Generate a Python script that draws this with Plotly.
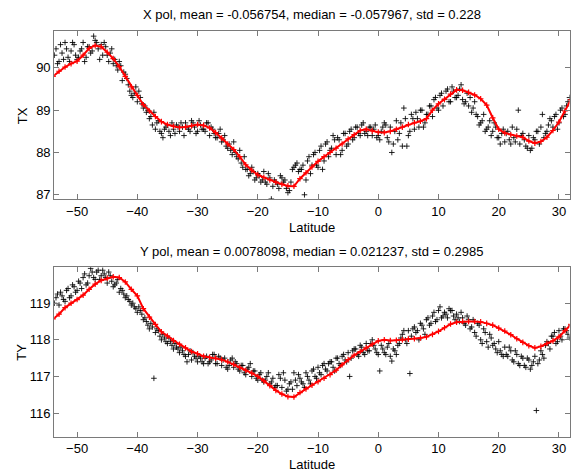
import plotly.graph_objects as go

# ---------------- data ----------------
lat_model = list(range(-54, 33))                      # model curve latitudes (1 deg)
lat_obs = [-53.75 + 0.5 * i for i in range(172)]      # observation latitudes, pass A
lat_obs2 = [-53.5 + 0.5 * i for i in range(172)]      # observation latitudes, pass B

tx_model = [89.80, 89.92, 90.02, 90.10, 90.16, 90.30, 90.46, 90.53, 90.50, 90.37,
            90.22, 90.03, 89.80, 89.55, 89.35, 89.13, 88.98, 88.85, 88.73, 88.66,
            88.62, 88.59, 88.60, 88.63, 88.66, 88.64, 88.58, 88.47, 88.34, 88.20,
            88.07, 87.90, 87.71, 87.58, 87.47, 87.41, 87.35, 87.30, 87.25, 87.21,
            87.20, 87.38, 87.52, 87.66, 87.79, 87.90, 88.00, 88.10, 88.20, 88.32,
            88.42, 88.52, 88.55, 88.51, 88.48, 88.47, 88.50, 88.55, 88.60, 88.66,
            88.70, 88.74, 88.80, 89.00, 89.15, 89.26, 89.38, 89.48, 89.47, 89.42,
            89.36, 89.27, 89.12, 88.82, 88.55, 88.46, 88.42, 88.39, 88.36, 88.27,
            88.22, 88.26, 88.36, 88.52, 88.72, 88.98, 89.25]

tx_obs = [90.30, 90.10, 90.55, 90.20, 90.45, 90.15, 90.60, 90.30, 90.25, 90.45,
          90.15, 90.50, 90.35, 90.75, 90.60, 90.20, 90.30, 90.50, 90.15, 90.45,
          90.20, 89.95, 90.05, 89.90, 89.75, 89.45, 89.30, 89.55, 89.45, 89.15,
          89.10, 89.00, 88.85, 88.95, 88.70, 88.50, 88.35, 88.60, 88.50, 88.70,
          88.45, 88.60, 88.70, 88.40, 88.60, 88.50, 88.70, 88.45, 88.75, 88.55,
          88.50, 88.70, 88.60, 88.45, 88.35, 88.55, 88.30, 88.15, 88.20, 87.95,
          88.00, 87.85, 87.75, 87.90, 87.60, 87.50, 87.55, 87.40, 87.45, 87.35,
          87.30, 87.50, 86.90, 87.35, 87.25, 87.45, 87.30, 87.15, 87.10, 87.60,
          87.70, 87.55, 87.60, 87.00, 87.80, 87.50, 87.95, 87.70, 88.05, 87.60,
          88.20, 87.90, 88.10, 88.30, 88.35, 87.95, 88.45, 88.15, 88.50, 88.30,
          88.60, 88.45, 88.65, 88.45, 88.40, 88.60, 88.55, 88.35, 88.30, 88.60,
          88.65, 88.25, 88.00, 88.50, 88.30, 88.70, 89.05, 88.15, 88.50, 88.80,
          88.95, 88.60, 89.00, 88.70, 88.90, 89.10, 89.25, 89.05, 89.35, 89.10,
          89.45, 89.20, 89.55, 89.30, 89.35, 89.60, 89.15, 89.40, 89.30, 89.05,
          88.90, 88.65, 88.75, 88.50, 88.60, 88.40, 88.70, 88.35, 88.20, 88.55,
          88.45, 88.30, 88.60, 88.25, 89.00, 88.40, 88.30, 88.10, 88.05, 88.35,
          88.50, 88.20, 88.90, 88.45, 88.65, 88.75, 88.85, 88.55, 89.00, 88.85,
          89.10, 89.30]

tx_obs2 = [90.45, 90.15, 90.35, 90.60, 90.25, 90.40, 90.55, 90.20, 90.40, 90.60,
           90.25, 90.50, 90.40, 90.65, 90.45, 90.55, 90.60, 90.30, 90.35, 90.10,
           90.05, 90.15, 89.70, 89.85, 89.60, 89.35, 89.40, 89.20, 89.30, 89.05,
           88.95, 88.80, 88.65, 88.55, 88.75, 88.45, 88.55, 88.65, 88.40, 88.55,
           88.65, 88.50, 88.60, 88.70, 88.55, 88.75, 88.60, 88.50, 88.65, 88.55,
           88.70, 88.40, 88.55, 88.35, 88.45, 88.25, 88.40, 88.10, 88.05, 88.25,
           87.90, 88.05, 87.65, 87.60, 87.45, 87.65, 87.35, 87.50, 87.30, 87.55,
           87.25, 87.40, 87.20, 87.30, 87.15, 87.40, 87.35, 87.05, 87.30, 87.65,
           87.75, 87.60, 87.70, 87.35, 87.90, 87.70, 88.00, 87.65, 88.15, 87.80,
           88.25, 88.05, 88.40, 87.95, 88.30, 88.05, 88.45, 88.20, 88.55, 88.35,
           88.60, 88.40, 88.70, 88.50, 88.60, 88.40, 88.65, 88.40, 88.50, 88.70,
           88.35, 88.60, 88.20, 88.75, 88.45, 88.15, 88.80, 88.40, 88.90, 88.55,
           88.80, 89.00, 88.60, 88.90, 89.10, 88.85, 89.30, 89.00, 89.40, 89.25,
           89.50, 89.20, 89.45, 89.30, 89.50, 89.25, 89.20, 89.10, 88.95, 89.20,
           88.85, 88.70, 88.90, 88.55, 88.75, 88.50, 88.60, 88.35, 88.45, 88.25,
           88.50, 88.20, 88.35, 88.55, 88.20, 88.45, 88.15, 88.40, 88.10, 88.30,
           88.50, 88.60, 88.35, 88.50, 88.80, 88.60, 88.90, 88.70, 89.05, 88.90,
           89.20, 89.25]

ty_model = [118.57, 118.70, 118.88, 119.00, 119.10, 119.22, 119.38, 119.52, 119.62, 119.68,
            119.72, 119.70, 119.58, 119.38, 119.20, 118.85, 118.62, 118.42, 118.22, 118.10,
            117.98, 117.88, 117.78, 117.68, 117.62, 117.55, 117.52, 117.50, 117.46, 117.40,
            117.33, 117.25, 117.17, 117.09, 117.00, 116.88, 116.75, 116.62, 116.52, 116.45,
            116.44, 116.56, 116.66, 116.76, 116.86, 116.95, 117.05, 117.17, 117.32, 117.46,
            117.58, 117.68, 117.78, 117.88, 117.97, 118.00, 117.98, 117.99, 118.00, 118.02,
            118.03, 118.05, 118.08, 118.15, 118.23, 118.33, 118.43, 118.48, 118.50, 118.50,
            118.50, 118.49, 118.45, 118.40, 118.32, 118.24, 118.14, 118.03, 117.93, 117.84,
            117.78, 117.82, 117.90, 117.97, 118.08, 118.25, 118.42]

ty_obs = [119.00, 119.25, 119.30, 119.10, 119.35, 119.15, 119.50, 119.30, 119.60, 119.40,
          119.80, 119.55, 119.95, 119.70, 119.85, 119.65, 119.90, 119.70, 119.85, 119.60,
          119.50, 119.65, 119.40, 119.25, 119.20, 119.05, 119.00, 118.85, 118.90, 118.70,
          118.60, 118.40, 118.45, 116.95, 118.30, 118.10, 118.15, 117.95, 118.05, 117.85,
          117.90, 117.75, 117.80, 117.60, 117.40, 117.70, 117.65, 117.50, 117.55, 117.40,
          117.50, 117.35, 117.45, 117.60, 117.35, 117.50, 117.45, 117.25, 117.30, 117.50,
          117.40, 117.20, 117.30, 117.10, 117.20, 117.35, 117.15, 116.95, 117.05, 116.90,
          116.90, 117.10, 116.85, 116.70, 116.75, 116.95, 117.10, 116.60, 116.80, 116.65,
          116.90, 117.05, 116.85, 116.70, 117.00, 116.80, 117.20, 116.95, 117.10, 117.30,
          117.20, 117.35, 117.40, 117.15, 117.50, 117.30, 117.60, 117.40, 117.00, 117.70,
          117.75, 117.55, 117.80, 117.60, 117.70, 117.90, 117.85, 117.65, 117.15, 117.75,
          117.60, 117.90, 117.42, 117.70, 117.85, 118.05, 118.25, 117.90, 117.08, 118.30,
          118.20, 118.00, 118.40, 118.15, 118.60, 118.45, 118.75, 118.55, 118.90, 118.65,
          118.70, 118.85, 118.80, 118.55, 118.60, 118.75, 118.45, 118.65, 118.30, 118.55,
          118.10, 118.40, 117.90, 118.20, 117.80, 118.05, 117.90, 117.65, 117.70, 117.55,
          117.60, 117.80, 117.45, 117.70, 117.35, 117.55, 117.30, 117.50, 117.20, 117.40,
          116.07, 117.45, 117.60, 117.85, 117.90, 118.10, 118.20, 117.95, 118.10, 118.30,
          118.25, 118.05]

ty_obs2 = [119.15, 118.95, 119.20, 119.05, 119.40, 119.20, 119.45, 119.35, 119.55, 119.70,
           119.50, 119.75, 119.85, 119.65, 119.90, 119.75, 119.80, 119.55, 119.75, 119.45,
           119.55, 119.30, 119.35, 119.15, 119.10, 118.95, 118.90, 118.75, 118.80, 118.55,
           118.50, 118.30, 118.35, 118.20, 118.25, 118.00, 118.05, 117.90, 117.95, 117.75,
           117.80, 117.65, 117.70, 117.55, 117.60, 117.45, 117.55, 117.40, 117.50, 117.35,
           117.55, 117.40, 117.60, 117.35, 117.55, 117.30, 117.50, 117.20, 117.45, 117.25,
           117.35, 117.15, 117.30, 117.05, 117.25, 117.00, 117.15, 116.90, 117.10, 116.85,
           117.00, 116.80, 116.95, 116.75, 117.05, 116.70, 116.90, 116.65, 116.85, 117.10,
           116.75, 116.95, 116.80, 117.10, 116.90, 117.15, 117.00, 117.25, 117.05, 117.35,
           117.15, 117.40, 117.25, 117.50, 117.35, 117.55, 117.45, 117.65, 117.50, 117.75,
           117.60, 117.85, 117.65, 117.90, 117.70, 118.00, 117.75, 117.60, 117.85, 117.65,
           117.80, 117.55, 117.75, 117.60, 117.90, 118.15, 118.00, 118.25, 118.10, 118.35,
           118.25, 118.45, 118.30, 118.55, 118.40, 118.65, 118.50, 118.80, 118.60, 118.75,
           118.60, 118.80, 118.65, 118.70, 118.50, 118.60, 118.40, 118.55, 118.35, 118.20,
           118.45, 118.00, 118.30, 117.95, 118.15, 117.85, 117.75, 117.95, 117.60, 117.80,
           117.55, 117.70, 117.40, 117.60, 117.30, 117.50, 117.25, 117.45, 117.30, 117.55,
           117.35, 117.70, 117.50, 117.95, 117.75, 118.10, 117.90, 118.25, 118.00, 118.30,
           118.15, 118.40]

title_top = "X pol, mean = -0.056754, median = -0.057967, std = 0.228"
title_bot = "Y pol, mean = 0.0078098, median = 0.021237, std = 0.2985"
x_ticks = [-50, -40, -30, -20, -10, 0, 10, 20, 30]
tx_ticks = [87, 88, 89, 90]
ty_ticks = [116, 117, 118, 119]

# ---------------- figure ----------------
W, H = 571, 475
FONT = "Liberation Sans, Arial, Helvetica, sans-serif"
AXC = "#7a7a7a"

fig = go.Figure()

def add_obs(xa, ya, xs, ys):
    fig.add_trace(go.Scatter(
        x=xs, y=ys, mode="markers", xaxis=xa, yaxis=ya,
        marker=dict(symbol="cross-thin", size=4, color="black",
                    line=dict(color="rgba(0,0,0,0.85)", width=1)),
        showlegend=False, hoverinfo="skip"))

def add_model(xa, ya, ys):
    fig.add_trace(go.Scatter(
        x=lat_model, y=ys, mode="lines+markers", xaxis=xa, yaxis=ya,
        line=dict(color="#ff0000", width=2),
        marker=dict(symbol="cross-thin", size=4, color="#ff0000",
                    line=dict(color="#ff0000", width=1.2)),
        showlegend=False, hoverinfo="skip"))

add_obs("x", "y", lat_obs, tx_obs)
add_obs("x", "y", lat_obs2, tx_obs2)
add_model("x", "y", tx_model)
add_obs("x2", "y2", lat_obs, ty_obs)
add_obs("x2", "y2", lat_obs2, ty_obs2)
add_model("x2", "y2", ty_model)

def px_x(p):
    return p / W

def px_y(p):
    return 1 - p / H

axis_common = dict(showline=True, linecolor=AXC, linewidth=1, mirror="allticks",
                   ticks="inside", ticklen=5, tickcolor=AXC, tickwidth=1,
                   showgrid=False, zeroline=False,
                   tickfont=dict(family=FONT, size=13, color="black"))

x_dom = [px_x(54.3), px_x(570.5)]
fig.update_layout(
    width=W, height=H,
    margin=dict(l=0, r=0, t=0, b=0),
    paper_bgcolor="white", plot_bgcolor="white",
    xaxis=dict(domain=x_dom, range=[-53.8, 31.75], anchor="y",
               tickvals=x_ticks, **axis_common),
    yaxis=dict(domain=[px_y(200.7), px_y(31.7)], range=[86.89, 90.86], anchor="x",
               tickvals=tx_ticks, **axis_common),
    xaxis2=dict(domain=x_dom, range=[-53.8, 31.75], anchor="y2",
                tickvals=x_ticks, **axis_common),
    yaxis2=dict(domain=[px_y(439.3), px_y(269)], range=[115.36, 119.98], anchor="x2",
                tickvals=ty_ticks, **axis_common),
)

ann_font = dict(family=FONT, size=13, color="black")
xc = px_x((54.3 + 570.5) / 2)
annotations = [
    dict(text=title_top, x=xc, y=px_y(15), xref="paper", yref="paper",
         showarrow=False, xanchor="center", yanchor="middle", font=ann_font),
    dict(text=title_bot, x=xc, y=px_y(253), xref="paper", yref="paper",
         showarrow=False, xanchor="center", yanchor="middle", font=ann_font),
    dict(text="Latitude", x=xc, y=px_y(229), xref="paper", yref="paper",
         showarrow=False, xanchor="center", yanchor="middle", font=ann_font),
    dict(text="Latitude", x=xc, y=px_y(467), xref="paper", yref="paper",
         showarrow=False, xanchor="center", yanchor="middle", font=ann_font),
    dict(text="TX", x=px_x(22), y=px_y(116), xref="paper", yref="paper", textangle=-90,
         showarrow=False, xanchor="center", yanchor="middle", font=ann_font),
    dict(text="TY", x=px_x(22), y=px_y(354), xref="paper", yref="paper", textangle=-90,
         showarrow=False, xanchor="center", yanchor="middle", font=ann_font),
]
fig.update_layout(annotations=annotations)

fig.write_html("out.html", config={"displayModeBar": False},
               post_script="document.body.style.margin='0';document.body.style.overflow='hidden';")
